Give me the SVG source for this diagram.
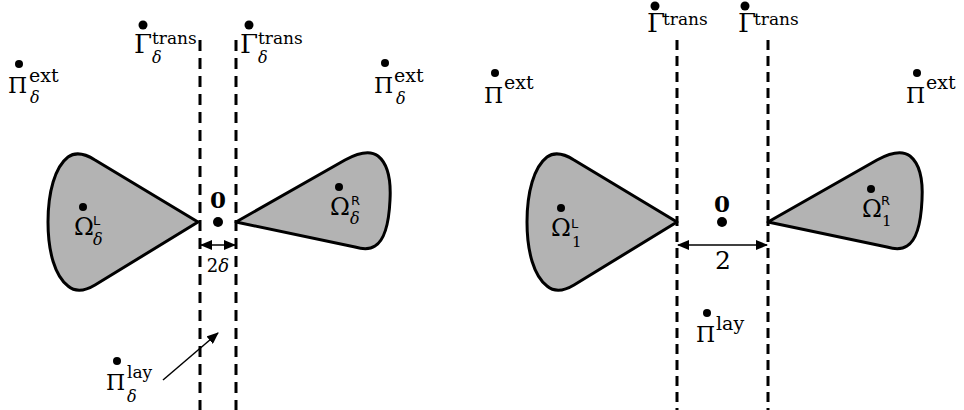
<svg xmlns="http://www.w3.org/2000/svg" width="964" height="410" viewBox="0 0 964 410">
<defs>
<style>
.m{font-family:"DejaVu Serif","Liberation Serif",serif;fill:#000}
.big{font-size:22px}
.gam{font-size:26px}
.om{font-size:24px}
.sup{font-size:17px}
.sup2{font-size:19px}
.sub{font-size:16px;font-style:italic}
.sf{font-family:"DejaVu Sans","Liberation Sans",sans-serif;font-size:13px;fill:#000}
.num{font-size:15px}
.zero{font-size:23px;font-weight:bold}
.shape{fill:#b3b3b3;stroke:#000;stroke-width:3;stroke-linejoin:round}
.dashL{stroke:#000;stroke-width:3;stroke-dasharray:11 7;fill:none}
.dashR{stroke:#000;stroke-width:3;stroke-dasharray:10 6;fill:none}
.arr{stroke:#000;stroke-width:1.5;fill:none}
</style>
<marker id="ah" viewBox="0 0 12 10" refX="11" refY="5" markerWidth="12" markerHeight="10" markerUnits="userSpaceOnUse" orient="auto-start-reverse">
<path d="M0,0 L12,5 L0,10 Z" fill="#000"/>
</marker>
<path id="shL" d="M198,222 L95,160 C84,153 75,152 68,157 C55,167 48,192 48,222 C48,252 55,276 68,286 C75,292 85,291 95,285 Z"/>
<path id="shR" d="M236,222 L345,160 C358,153 370,150 378,156 C388,164 391,182 390,200 C389,222 385,240 375,246 C369,250 362,249 355,247 Z"/>
</defs>
<rect width="964" height="410" fill="#fff"/>

<g id="shapes">
<g id="omegaL_delta"><use href="#shL" class="shape"/></g>
<g id="omegaR_delta"><use href="#shR" class="shape"/></g>
<g id="omegaL_1"><use href="#shL" class="shape" transform="translate(479,0)"/></g>
<g id="omegaR_1"><use href="#shR" class="shape" transform="translate(532,0)"/></g>
</g>

<g id="connectors">
<line class="dashL" x1="200" y1="40" x2="200" y2="410"/>
<line class="dashL" x1="236" y1="40" x2="236" y2="410"/>
<line class="dashR" x1="677" y1="40" x2="677" y2="410"/>
<line class="dashR" x1="768" y1="40" x2="768" y2="410"/>
<line class="arr" x1="201" y1="245" x2="235" y2="245" marker-start="url(#ah)" marker-end="url(#ah)"/>
<line class="arr" x1="678" y1="245" x2="767" y2="245" marker-start="url(#ah)" marker-end="url(#ah)"/>
<line class="arr" x1="163" y1="380" x2="218" y2="333" marker-end="url(#ah)"/>
</g>

<g id="origin_left">
<text class="m zero" x="218" y="208" text-anchor="middle">0</text>
<circle cx="218" cy="222" r="5"/>
<text class="m" x="218" y="272" text-anchor="middle" font-size="18">2<tspan font-style="italic">δ</tspan></text>
</g>
<g id="origin_right">
<text class="m zero" x="722" y="212" text-anchor="middle">0</text>
<circle cx="722" cy="222" r="5"/>
<text class="m" x="723" y="269" text-anchor="middle" font-size="25">2</text>
</g>

<g id="label_Pi_ext_delta_left">
<circle cx="19" cy="64" r="4"/>
<text class="m big" x="8" y="93">Π</text>
<text class="m sup2" x="29" y="82">ext</text>
<text class="m sub" x="30" y="103">δ</text>
</g>
<g id="label_Gamma_trans_delta_1">
<circle cx="143" cy="25" r="4.5"/>
<text class="m gam" x="134" y="53">Γ</text>
<text class="m sup" x="152" y="44">trans</text>
<text class="m sub" x="152" y="63">δ</text>
</g>
<g id="label_Gamma_trans_delta_2">
<circle cx="249" cy="25" r="4.5"/>
<text class="m gam" x="240" y="53">Γ</text>
<text class="m sup" x="258" y="44">trans</text>
<text class="m sub" x="258" y="63">δ</text>
</g>
<g id="label_Pi_ext_delta_right">
<circle cx="385" cy="63" r="4"/>
<text class="m big" x="374" y="93">Π</text>
<text class="m sup2" x="394" y="82">ext</text>
<text class="m sub" x="396" y="104">δ</text>
</g>
<g id="label_OmegaL_delta">
<circle cx="83" cy="207" r="4"/>
<text class="m om" x="74" y="235">Ω</text>
<text class="sf" x="93" y="225">L</text>
<text class="m sub" x="93" y="245">δ</text>
</g>
<g id="label_OmegaR_delta">
<circle cx="339" cy="187" r="4"/>
<text class="m om" x="330" y="215">Ω</text>
<text class="sf" x="351" y="205">R</text>
<text class="m sub" x="350" y="224">δ</text>
</g>
<g id="label_Pi_lay_delta">
<circle cx="117" cy="361" r="4"/>
<text class="m big" x="106" y="390">Π</text>
<text class="m sup" x="127" y="378">lay</text>
<text class="m sub" x="127" y="402">δ</text>
</g>

<g id="label_Pi_ext_left">
<circle cx="495" cy="73" r="4"/>
<text class="m big" x="484" y="103">Π</text>
<text class="m sup2" x="504" y="89">ext</text>
</g>
<g id="label_Gamma_trans_1">
<circle cx="655" cy="6" r="4.5"/>
<text class="m gam" x="647" y="32">Γ</text>
<text class="m sup" x="663" y="25">trans</text>
</g>
<g id="label_Gamma_trans_2">
<circle cx="745" cy="6" r="4.5"/>
<text class="m gam" x="738" y="32">Γ</text>
<text class="m sup" x="754" y="25">trans</text>
</g>
<g id="label_Pi_ext_right">
<circle cx="917" cy="73" r="4"/>
<text class="m big" x="906" y="103">Π</text>
<text class="m sup2" x="926" y="89">ext</text>
</g>
<g id="label_OmegaL_1">
<circle cx="561" cy="208" r="4"/>
<text class="m om" x="551" y="236">Ω</text>
<text class="sf" x="571" y="228">L</text>
<text class="m num" x="572" y="247">1</text>
</g>
<g id="label_OmegaR_1">
<circle cx="871" cy="189" r="4"/>
<text class="m om" x="862" y="217">Ω</text>
<text class="sf" x="881" y="205">R</text>
<text class="m num" x="882" y="226">1</text>
</g>
<g id="label_Pi_lay">
<circle cx="707" cy="313" r="4"/>
<text class="m big" x="696" y="342">Π</text>
<text class="m sup2" x="716" y="330">lay</text>
</g>
</svg>
